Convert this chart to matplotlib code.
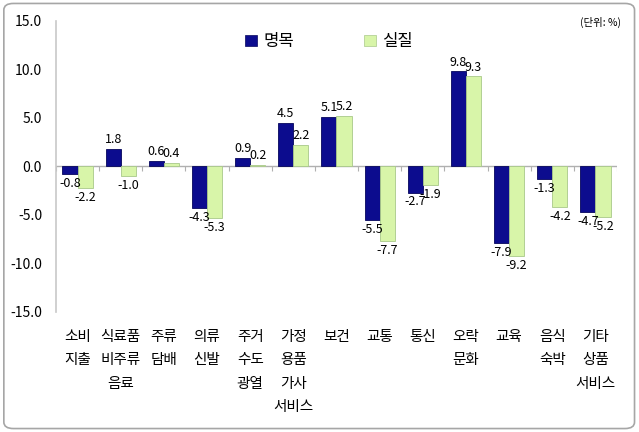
import matplotlib
matplotlib.use("Agg")
import matplotlib.pyplot as plt
import numpy as np
from matplotlib.patches import FancyBboxPatch, Patch

plt.rcParams['font.family'] = ['Noto Sans CJK KR', 'DejaVu Sans']

# data
categories = ["소비\n지출", "식료품\n비주류\n음료", "주류\n담배", "의류\n신발", "주거\n수도\n광열",
              "가정\n용품\n가사\n서비스", "보건", "교통", "통신", "오락\n문화", "교육", "음식\n숙박",
              "기타\n상품\n서비스"]
nominal = [-0.8, 1.8, 0.6, -4.3, 0.9, 4.5, 5.1, -5.5, -2.7, 9.8, -7.9, -1.3, -4.7]
real = [-2.2, -1.0, 0.4, -5.3, 0.2, 2.2, 5.2, -7.7, -1.9, 9.3, -9.2, -4.2, -5.2]
y_ticks = [15.0, 10.0, 5.0, 0.0, -5.0, -10.0, -15.0]

blue = "#0C0C8E"
green = "#D8F5A9"

fig = plt.figure(figsize=(6.39, 4.32), dpi=100)
border = FancyBboxPatch((0.006, 0.008), 0.987, 0.984, boxstyle="round,pad=0,rounding_size=0.015",
                        transform=fig.transFigure, facecolor="white", edgecolor="#A6A6A6",
                        linewidth=1.2, zorder=-10)
fig.patches.append(border)

ax = fig.add_axes([0.0876, 0.2778, 0.878, 0.6736])
ax.patch.set_alpha(0)

x = np.arange(len(categories))
w = 0.35
ax.bar(x - w / 2, nominal, width=w, color=blue, edgecolor="#06065C", linewidth=0.6, zorder=3)
ax.bar(x + w / 2, real, width=w, color=green, edgecolor="#A9C98A", linewidth=0.6, zorder=3)

for xi, v in zip(x, nominal):
    ax.annotate(f"{v:.1f}", (xi - w / 2, v), xytext=(0, 2 if v >= 0 else -2), textcoords="offset points",
                ha="center", va="bottom" if v >= 0 else "top", fontsize=9, zorder=4)
for xi, v in zip(x, real):
    ax.annotate(f"{v:.1f}", (xi + w / 2, v), xytext=(0, 2 if v >= 0 else -2), textcoords="offset points",
                ha="center", va="bottom" if v >= 0 else "top", fontsize=9, zorder=4)

ax.set_xlim(-0.5, len(categories) - 0.5)
ax.set_ylim(-15, 15)
ax.set_yticks(y_ticks)
ax.set_yticklabels([f"{t:.1f}" for t in y_ticks], fontsize=10)
ax.tick_params(axis="y", length=0, pad=10)

ax.set_xticks(x)
ax.set_xticklabels(categories, fontsize=10.5, linespacing=1.85, va="top")
ax.tick_params(axis="x", length=0, pad=13)

for s in ["top", "right", "bottom"]:
    ax.spines[s].set_visible(False)
ax.spines["left"].set_color("#C8C8C8")
ax.spines["left"].set_linewidth(1.2)

# zero line with boundary ticks
ax.axhline(0, color="#B0B0B0", linewidth=1, zorder=2)
bounds = np.arange(len(categories) + 1) - 0.5
ax.vlines(bounds, -0.45, 0, color="#B0B0B0", linewidth=0.8, zorder=2)

handles = [Patch(facecolor=blue, edgecolor="#06065C", linewidth=0.5),
           Patch(facecolor=green, edgecolor="#A9C98A", linewidth=0.5)]
fig.legend(handles, ["명목", "실질"], loc="center", bbox_to_anchor=(0.515, 0.903), ncol=2, frameon=False,
           fontsize=12, handlelength=0.7, handleheight=0.7, handletextpad=0.4, columnspacing=4.2)

fig.text(0.94, 0.948, "(단위: %)", fontsize=7.5, ha="center", va="center")

fig.savefig("out.png", dpi=100)
